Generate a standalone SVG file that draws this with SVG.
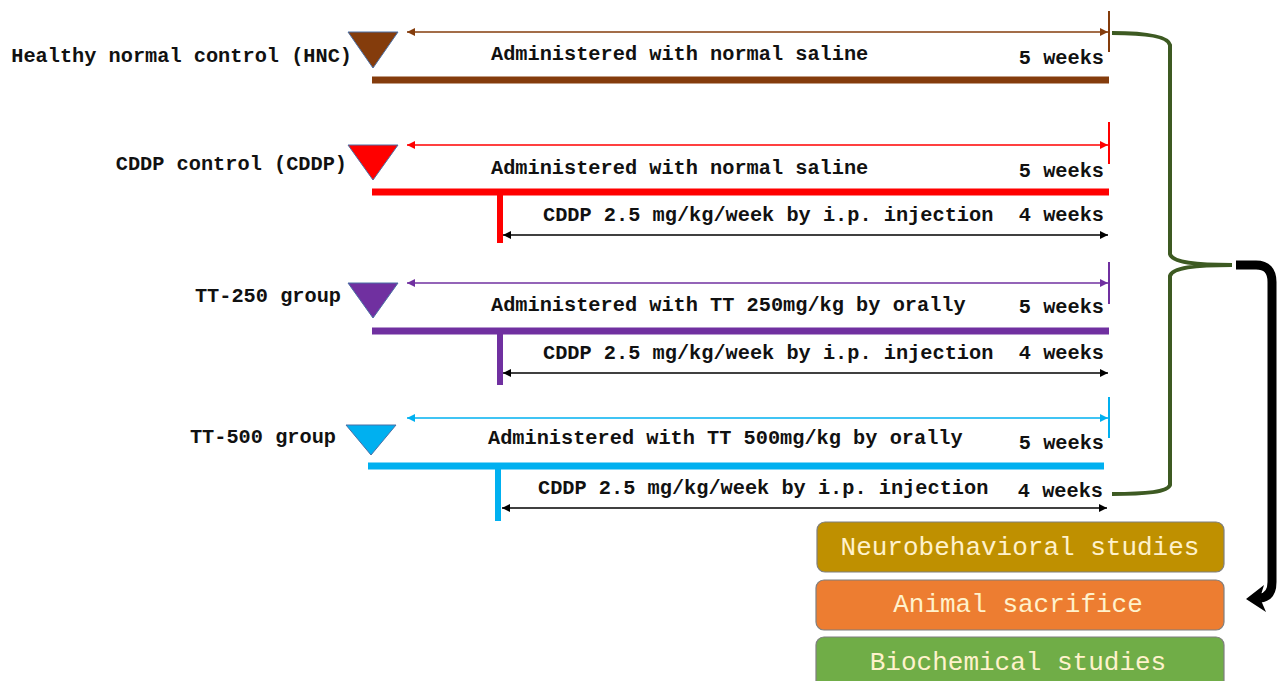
<svg xmlns="http://www.w3.org/2000/svg" width="1280" height="681" viewBox="0 0 1280 681">
<style>
.lbl{font-family:"Liberation Mono","Courier New",monospace;font-weight:bold;font-size:20.3px;fill:#111}
.box{font-family:"Liberation Mono","Courier New",monospace;font-size:26px;fill:#fff2cc;text-anchor:middle}
.end{text-anchor:end}
.thin{stroke-width:1.3;fill:none}
.bar{stroke-width:7;fill:none}
.tick{stroke-width:2;fill:none}
.tri{stroke:#4a6fa5;stroke-width:1}
.rbox{stroke:#7f7f7f;stroke-width:1.2}
</style>
<defs>
<marker id="aBrown" viewBox="0 0 10 10" refX="10" refY="5" markerWidth="8" markerHeight="8" markerUnits="userSpaceOnUse" orient="auto-start-reverse"><path d="M0,0L10,5L0,10z" fill="#843c0c"/></marker>
<marker id="aRed" viewBox="0 0 10 10" refX="10" refY="5" markerWidth="8" markerHeight="8" markerUnits="userSpaceOnUse" orient="auto-start-reverse"><path d="M0,0L10,5L0,10z" fill="#ff0000"/></marker>
<marker id="aPurple" viewBox="0 0 10 10" refX="10" refY="5" markerWidth="8" markerHeight="8" markerUnits="userSpaceOnUse" orient="auto-start-reverse"><path d="M0,0L10,5L0,10z" fill="#7030a0"/></marker>
<marker id="aBlue" viewBox="0 0 10 10" refX="10" refY="5" markerWidth="8" markerHeight="8" markerUnits="userSpaceOnUse" orient="auto-start-reverse"><path d="M0,0L10,5L0,10z" fill="#00b0f0"/></marker>
<marker id="aBlack" viewBox="0 0 10 10" refX="10" refY="5" markerWidth="8" markerHeight="8" markerUnits="userSpaceOnUse" orient="auto-start-reverse"><path d="M0,0L10,5L0,10z" fill="#000"/></marker>
</defs>
<rect width="1280" height="681" fill="#fff"/>

<g id="hnc">
<text class="lbl end" x="352" y="62">Healthy normal control (HNC)</text>
<polygon class="tri" points="348,32 398,32 373,68" fill="#843c0c"/>
<text class="lbl" x="491" y="60">Administered with normal saline</text>
<text class="lbl end" x="1104" y="64">5 weeks</text>
</g>

<g id="cddp">
<text class="lbl end" x="347" y="170">CDDP control (CDDP)</text>
<polygon class="tri" points="348,145 398,145 373,180" fill="#ff0000"/>
<text class="lbl" x="491" y="174">Administered with normal saline</text>
<text class="lbl end" x="1104" y="177">5 weeks</text>
<text class="lbl" x="543" y="221">CDDP 2.5 mg/kg/week by i.p. injection</text>
<text class="lbl end" x="1104" y="221">4 weeks</text>
</g>

<g id="tt250">
<text class="lbl end" x="341" y="302">TT-250 group</text>
<polygon class="tri" points="348,283 398,283 373,318" fill="#7030a0"/>
<text class="lbl" x="491" y="311">Administered with TT 250mg/kg by orally</text>
<text class="lbl end" x="1104" y="313">5 weeks</text>
<text class="lbl" x="543" y="359">CDDP 2.5 mg/kg/week by i.p. injection</text>
<text class="lbl end" x="1104" y="359">4 weeks</text>
</g>

<g id="tt500">
<text class="lbl end" x="336" y="443">TT-500 group</text>
<polygon class="tri" points="346,425 396,425 371,455" fill="#00b0f0"/>
<text class="lbl" x="488" y="444">Administered with TT 500mg/kg by orally</text>
<text class="lbl end" x="1104" y="449">5 weeks</text>
<text class="lbl" x="538" y="494">CDDP 2.5 mg/kg/week by i.p. injection</text>
<text class="lbl end" x="1103" y="497">4 weeks</text>
</g>

<g id="neuro">
<rect class="rbox" x="817" y="522" width="407" height="50" rx="8" fill="#bf9000"/>
<text class="box" x="1020" y="555">Neurobehavioral studies</text>
</g>
<g id="sacrifice">
<rect class="rbox" x="816" y="580" width="408" height="50" rx="8" fill="#ed7d31"/>
<text class="box" x="1018" y="612">Animal sacrifice</text>
</g>
<g id="biochem">
<rect class="rbox" x="816" y="637" width="408" height="60" rx="8" fill="#70ad47"/>
<text class="box" x="1018" y="670">Biochemical studies</text>
</g>

<g id="connectors">
<line class="thin" x1="407" y1="32" x2="1108" y2="32" stroke="#843c0c" marker-start="url(#aBrown)" marker-end="url(#aBrown)"/>
<line class="tick" x1="1109" y1="11" x2="1109" y2="52" stroke="#843c0c"/>
<line class="bar" x1="372" y1="80" x2="1109" y2="80" stroke="#843c0c"/>
<line class="thin" x1="407" y1="145" x2="1108" y2="145" stroke="#ff0000" marker-start="url(#aRed)" marker-end="url(#aRed)"/>
<line class="tick" x1="1109" y1="122" x2="1109" y2="164" stroke="#ff0000"/>
<line class="bar" x1="372" y1="192" x2="1109" y2="192" stroke="#ff0000"/>
<line x1="500" y1="192" x2="500" y2="243" stroke="#ff0000" stroke-width="6"/>
<line class="thin" x1="503" y1="235" x2="1108" y2="235" stroke="#000" marker-start="url(#aBlack)" marker-end="url(#aBlack)"/>
<line class="thin" x1="407" y1="283" x2="1108" y2="283" stroke="#7030a0" marker-start="url(#aPurple)" marker-end="url(#aPurple)"/>
<line class="tick" x1="1109" y1="262" x2="1109" y2="304" stroke="#7030a0"/>
<line class="bar" x1="372" y1="331" x2="1109" y2="331" stroke="#7030a0"/>
<line x1="500" y1="331" x2="500" y2="385" stroke="#7030a0" stroke-width="6"/>
<line class="thin" x1="503" y1="373" x2="1108" y2="373" stroke="#000" marker-start="url(#aBlack)" marker-end="url(#aBlack)"/>
<line class="thin" x1="407" y1="418" x2="1108" y2="418" stroke="#00b0f0" marker-start="url(#aBlue)" marker-end="url(#aBlue)"/>
<line class="tick" x1="1109" y1="397" x2="1109" y2="438" stroke="#00b0f0"/>
<line class="bar" x1="368" y1="466" x2="1104" y2="466" stroke="#00b0f0"/>
<line x1="498" y1="466" x2="498" y2="521" stroke="#00b0f0" stroke-width="6"/>
<line class="thin" x1="502" y1="508" x2="1107" y2="508" stroke="#000" marker-start="url(#aBlack)" marker-end="url(#aBlack)"/>
<path d="M1112,33 C1145,33 1168,36 1170,45 L1170,254 C1172,262 1195,265 1232,265 C1195,265 1172,268 1170,276 L1170,485 C1168,492 1145,494 1112,494" fill="none" stroke="#3d5a22" stroke-width="4"/>
<path d="M1236,265 L1256,265 Q1272,265 1272,282 L1272,582 Q1272,597 1260,598" fill="none" stroke="#000" stroke-width="9"/>
<polygon points="1246,599 1264,585 1260,598 1266,612" fill="#000"/>
</g>
</svg>
